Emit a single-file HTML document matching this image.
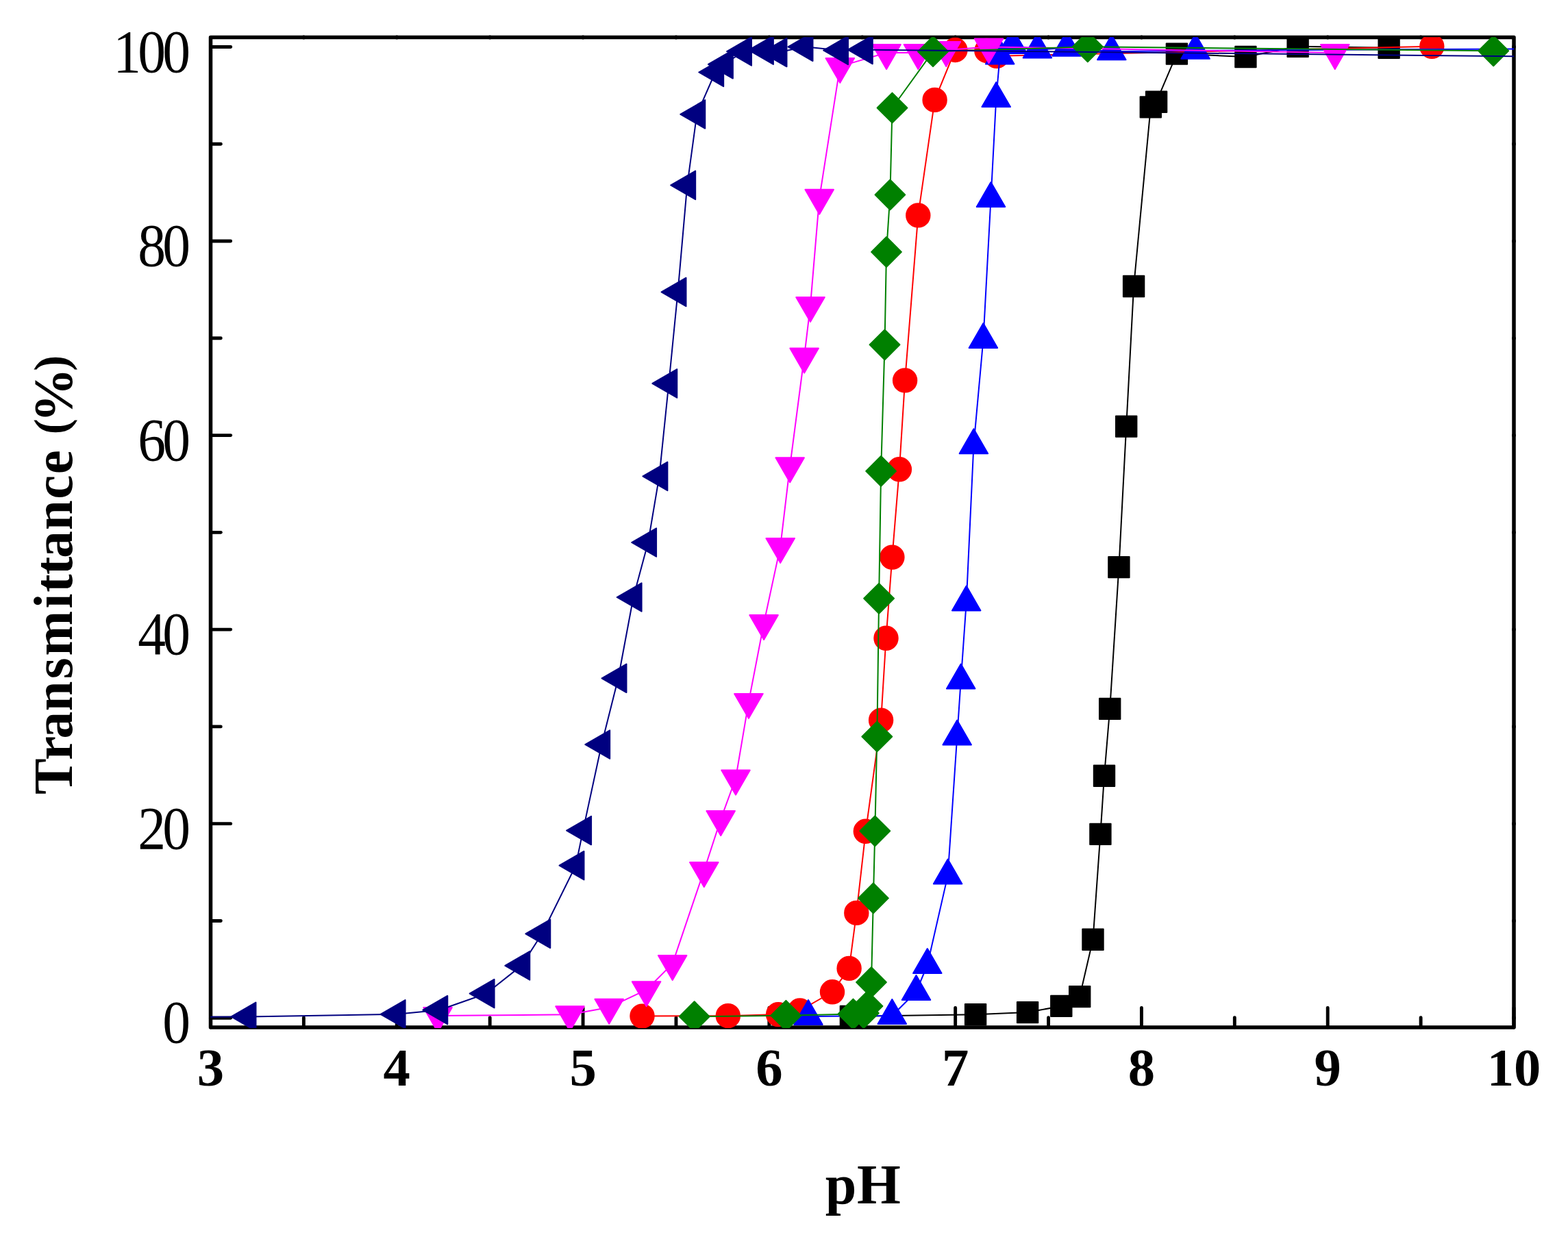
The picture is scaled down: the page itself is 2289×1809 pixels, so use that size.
<!DOCTYPE html>
<html lang="en">
<head>
<meta charset="utf-8">
<title>Transmittance (%) vs pH</title>
<style>
html,body{margin:0;padding:0;background:#fff;}
body{width:2289px;height:1809px;overflow:hidden;}
svg{display:block;}
text{font-family:"Liberation Serif","DejaVu Serif",serif;fill:#000;}
.b{font-weight:bold;}
</style>
</head>
<body>
<svg width="2289" height="1809" viewBox="0 0 2289 1809">
<rect x="0" y="0" width="2289" height="1809" fill="#ffffff"/>
<defs><clipPath id="plot"><rect x="307.2" y="54.2" width="1903.1" height="1446.7"/></clipPath></defs>
<g id="axes" fill="none" stroke="#000" stroke-linecap="round" stroke-linejoin="round">
<rect x="307.5" y="54.5" width="1902.5" height="1445.5" stroke-width="5.5"/>
<g stroke-width="4.9">
<line x1="307.5" y1="1500" x2="307.5" y2="1471.4"/><line x1="443.39" y1="1500" x2="443.39" y2="1485.8"/><line x1="579.29" y1="1500" x2="579.29" y2="1471.4"/><line x1="715.18" y1="1500" x2="715.18" y2="1485.8"/><line x1="851.07" y1="1500" x2="851.07" y2="1471.4"/><line x1="986.96" y1="1500" x2="986.96" y2="1485.8"/><line x1="1122.86" y1="1500" x2="1122.86" y2="1471.4"/><line x1="1258.75" y1="1500" x2="1258.75" y2="1485.8"/><line x1="1394.64" y1="1500" x2="1394.64" y2="1471.4"/><line x1="1530.54" y1="1500" x2="1530.54" y2="1485.8"/><line x1="1666.43" y1="1500" x2="1666.43" y2="1471.4"/><line x1="1802.32" y1="1500" x2="1802.32" y2="1485.8"/><line x1="1938.21" y1="1500" x2="1938.21" y2="1471.4"/><line x1="2074.11" y1="1500" x2="2074.11" y2="1485.8"/><line x1="2210" y1="1500" x2="2210" y2="1471.4"/>
<line x1="307.5" y1="1486.2" x2="336.7" y2="1486.2"/><line x1="307.5" y1="1344.43" x2="322.3" y2="1344.43"/><line x1="307.5" y1="1202.66" x2="336.7" y2="1202.66"/><line x1="307.5" y1="1060.89" x2="322.3" y2="1060.89"/><line x1="307.5" y1="919.12" x2="336.7" y2="919.12"/><line x1="307.5" y1="777.35" x2="322.3" y2="777.35"/><line x1="307.5" y1="635.58" x2="336.7" y2="635.58"/><line x1="307.5" y1="493.81" x2="322.3" y2="493.81"/><line x1="307.5" y1="352.04" x2="336.7" y2="352.04"/><line x1="307.5" y1="210.27" x2="322.3" y2="210.27"/><line x1="307.5" y1="68.5" x2="336.7" y2="68.5"/>
<circle cx="443.39" cy="54.5" r="0.45"/><circle cx="579.29" cy="54.5" r="0.45"/><circle cx="715.18" cy="54.5" r="0.45"/><circle cx="851.07" cy="54.5" r="0.45"/><circle cx="986.96" cy="54.5" r="0.45"/><circle cx="1122.86" cy="54.5" r="0.45"/><circle cx="1258.75" cy="54.5" r="0.45"/><circle cx="1394.64" cy="54.5" r="0.45"/><circle cx="1530.54" cy="54.5" r="0.45"/><circle cx="1666.43" cy="54.5" r="0.45"/><circle cx="1802.32" cy="54.5" r="0.45"/><circle cx="1938.21" cy="54.5" r="0.45"/><circle cx="2074.11" cy="54.5" r="0.45"/><circle cx="2210" cy="1486.2" r="0.45"/><circle cx="2210" cy="1344.43" r="0.45"/><circle cx="2210" cy="1202.66" r="0.45"/><circle cx="2210" cy="1060.89" r="0.45"/><circle cx="2210" cy="919.12" r="0.45"/><circle cx="2210" cy="777.35" r="0.45"/><circle cx="2210" cy="635.58" r="0.45"/><circle cx="2210" cy="493.81" r="0.45"/><circle cx="2210" cy="352.04" r="0.45"/><circle cx="2210" cy="210.27" r="0.45"/><circle cx="2210" cy="68.5" r="0.45"/>
</g>
</g>
<g id="data" clip-path="url(#plot)">
<g id="s-black" fill="#000000" stroke="#000000" stroke-width="2" stroke-linejoin="round" stroke-linecap="round">
<polyline fill="none" points="1241.9,1484 1424.1,1481.2 1500.1,1478.1 1549.3,1468.9 1576.2,1455.1 1595.5,1371.8 1606.4,1217.9 1612,1132.8 1620.2,1034.9 1633.4,828.1 1644.2,622.6 1655.1,418 1679.8,156.4 1688.1,148.7 1717.9,78.6 1818.4,83 1894.6,67.8 2027.6,69.8"/>
<rect x="1226.7" y="1468.8" width="30.4" height="30.4"/><rect x="1408.9" y="1466" width="30.4" height="30.4"/><rect x="1484.9" y="1462.9" width="30.4" height="30.4"/><rect x="1534.1" y="1453.7" width="30.4" height="30.4"/><rect x="1561" y="1439.9" width="30.4" height="30.4"/><rect x="1580.3" y="1356.6" width="30.4" height="30.4"/><rect x="1591.2" y="1202.7" width="30.4" height="30.4"/><rect x="1596.8" y="1117.6" width="30.4" height="30.4"/><rect x="1605" y="1019.7" width="30.4" height="30.4"/><rect x="1618.2" y="812.9" width="30.4" height="30.4"/><rect x="1629" y="607.4" width="30.4" height="30.4"/><rect x="1639.9" y="402.8" width="30.4" height="30.4"/><rect x="1664.6" y="141.2" width="30.4" height="30.4"/><rect x="1672.9" y="133.5" width="30.4" height="30.4"/><rect x="1702.7" y="63.4" width="30.4" height="30.4"/><rect x="1803.2" y="67.8" width="30.4" height="30.4"/><rect x="1879.4" y="52.6" width="30.4" height="30.4"/><rect x="2012.4" y="54.6" width="30.4" height="30.4"/>
</g>
<g id="s-red" fill="#ff0000" stroke="#ff0000" stroke-width="2" stroke-linejoin="round" stroke-linecap="round">
<polyline fill="none" points="937.5,1483.6 1062.8,1483.2 1136.1,1481.1 1167.7,1475.5 1215,1448.3 1239.6,1413.9 1250.3,1332.9 1263.8,1213.8 1286.1,1051.6 1293.5,931.8 1302.4,813.6 1312.9,685.3 1321.1,555.4 1340.3,314.4 1364.6,145.9 1394.4,73 1440.4,74 1455,81.8 2090.3,67.8"/>
<circle cx="937.5" cy="1483.6" r="17.2"/><circle cx="1062.8" cy="1483.2" r="17.2"/><circle cx="1136.1" cy="1481.1" r="17.2"/><circle cx="1167.7" cy="1475.5" r="17.2"/><circle cx="1215" cy="1448.3" r="17.2"/><circle cx="1239.6" cy="1413.9" r="17.2"/><circle cx="1250.3" cy="1332.9" r="17.2"/><circle cx="1263.8" cy="1213.8" r="17.2"/><circle cx="1286.1" cy="1051.6" r="17.2"/><circle cx="1293.5" cy="931.8" r="17.2"/><circle cx="1302.4" cy="813.6" r="17.2"/><circle cx="1312.9" cy="685.3" r="17.2"/><circle cx="1321.1" cy="555.4" r="17.2"/><circle cx="1340.3" cy="314.4" r="17.2"/><circle cx="1364.6" cy="145.9" r="17.2"/><circle cx="1394.4" cy="73" r="17.2"/><circle cx="1440.4" cy="74" r="17.2"/><circle cx="1455" cy="81.8" r="17.2"/><circle cx="2090.3" cy="67.8" r="17.2"/>
</g>
<g id="s-blue" fill="#0000ff" stroke="#0000ff" stroke-width="2" stroke-linejoin="round" stroke-linecap="round">
<polyline fill="none" points="1180,1484 1302.3,1483 1337.5,1448 1353.8,1409 1383.6,1278.4 1397.2,1075.5 1402.7,993.5 1410.7,879.4 1421.4,650.2 1435.4,495.9 1446.5,290 1454.2,144.1 1459.7,81.4 1478.3,66 1514.4,72.5 1557.1,69.8 1622.8,75.2 1745.1,73.8 2260,71.2"/>
<polygon points="1180,1460.04 1200.75,1495.98 1159.25,1495.98"/><polygon points="1302.3,1459.04 1323.05,1494.98 1281.55,1494.98"/><polygon points="1337.5,1424.04 1358.25,1459.98 1316.75,1459.98"/><polygon points="1353.8,1385.04 1374.55,1420.98 1333.05,1420.98"/><polygon points="1383.6,1254.44 1404.35,1290.38 1362.85,1290.38"/><polygon points="1397.2,1051.54 1417.95,1087.48 1376.45,1087.48"/><polygon points="1402.7,969.54 1423.45,1005.48 1381.95,1005.48"/><polygon points="1410.7,855.44 1431.45,891.38 1389.95,891.38"/><polygon points="1421.4,626.24 1442.15,662.18 1400.65,662.18"/><polygon points="1435.4,471.94 1456.15,507.88 1414.65,507.88"/><polygon points="1446.5,266.04 1467.25,301.98 1425.75,301.98"/><polygon points="1454.2,120.14 1474.95,156.08 1433.45,156.08"/><polygon points="1459.7,57.44 1480.45,93.38 1438.95,93.38"/><polygon points="1478.3,42.04 1499.05,77.98 1457.55,77.98"/><polygon points="1514.4,48.54 1535.15,84.48 1493.65,84.48"/><polygon points="1557.1,45.84 1577.85,81.78 1536.35,81.78"/><polygon points="1622.8,51.24 1643.55,87.18 1602.05,87.18"/><polygon points="1745.1,49.84 1765.85,85.78 1724.35,85.78"/>
</g>
<g id="s-magenta" fill="#ff00ff" stroke="#ff00ff" stroke-width="2" stroke-linejoin="round" stroke-linecap="round">
<polyline fill="none" points="639.1,1483 832,1481.3 889.2,1470.8 943.6,1445.2 981.7,1407.1 1027.8,1271 1052.2,1196.1 1074,1136.5 1092.9,1024.9 1115.1,910 1139.2,797.9 1153.2,680.3 1174.1,520.5 1183,445.9 1196.2,288.8 1226.3,96.9 1294.1,77 1340.4,77 1381.3,73 1443.5,68.4 1948.8,77"/>
<polygon points="639.1,1506.96 659.85,1471.02 618.35,1471.02"/><polygon points="832,1505.26 852.75,1469.32 811.25,1469.32"/><polygon points="889.2,1494.76 909.95,1458.82 868.45,1458.82"/><polygon points="943.6,1469.16 964.35,1433.22 922.85,1433.22"/><polygon points="981.7,1431.06 1002.45,1395.12 960.95,1395.12"/><polygon points="1027.8,1294.96 1048.55,1259.02 1007.05,1259.02"/><polygon points="1052.2,1220.06 1072.95,1184.12 1031.45,1184.12"/><polygon points="1074,1160.46 1094.75,1124.52 1053.25,1124.52"/><polygon points="1092.9,1048.86 1113.65,1012.92 1072.15,1012.92"/><polygon points="1115.1,933.96 1135.85,898.02 1094.35,898.02"/><polygon points="1139.2,821.86 1159.95,785.92 1118.45,785.92"/><polygon points="1153.2,704.26 1173.95,668.32 1132.45,668.32"/><polygon points="1174.1,544.46 1194.85,508.52 1153.35,508.52"/><polygon points="1183,469.86 1203.75,433.92 1162.25,433.92"/><polygon points="1196.2,312.76 1216.95,276.82 1175.45,276.82"/><polygon points="1226.3,120.86 1247.05,84.92 1205.55,84.92"/><polygon points="1294.1,100.96 1314.85,65.02 1273.35,65.02"/><polygon points="1340.4,100.96 1361.15,65.02 1319.65,65.02"/><polygon points="1381.3,96.96 1402.05,61.02 1360.55,61.02"/><polygon points="1443.5,92.36 1464.25,56.42 1422.75,56.42"/><polygon points="1948.8,100.96 1969.55,65.02 1928.05,65.02"/>
</g>
<g id="s-green" fill="#008000" stroke="#008000" stroke-width="2" stroke-linejoin="round" stroke-linecap="round">
<polyline fill="none" points="1013.7,1484.2 1147.4,1482.8 1245.5,1480.5 1260.8,1479.2 1266.4,1469 1272,1434.1 1274.9,1311.4 1277.3,1213.3 1280.3,1075.5 1283.1,873.8 1286.1,687.9 1291.5,503.3 1294,367.9 1299.4,284.4 1302.5,157.5 1362,75.2 1587.8,68.3 2180.2,74.3"/>
<polygon points="1013.7,1462.3 1035.6,1484.2 1013.7,1506.1 991.8,1484.2"/><polygon points="1147.4,1460.9 1169.3,1482.8 1147.4,1504.7 1125.5,1482.8"/><polygon points="1245.5,1458.6 1267.4,1480.5 1245.5,1502.4 1223.6,1480.5"/><polygon points="1260.8,1457.3 1282.7,1479.2 1260.8,1501.1 1238.9,1479.2"/><polygon points="1266.4,1447.1 1288.3,1469 1266.4,1490.9 1244.5,1469"/><polygon points="1272,1412.2 1293.9,1434.1 1272,1456 1250.1,1434.1"/><polygon points="1274.9,1289.5 1296.8,1311.4 1274.9,1333.3 1253,1311.4"/><polygon points="1277.3,1191.4 1299.2,1213.3 1277.3,1235.2 1255.4,1213.3"/><polygon points="1280.3,1053.6 1302.2,1075.5 1280.3,1097.4 1258.4,1075.5"/><polygon points="1283.1,851.9 1305,873.8 1283.1,895.7 1261.2,873.8"/><polygon points="1286.1,666 1308,687.9 1286.1,709.8 1264.2,687.9"/><polygon points="1291.5,481.4 1313.4,503.3 1291.5,525.2 1269.6,503.3"/><polygon points="1294,346 1315.9,367.9 1294,389.8 1272.1,367.9"/><polygon points="1299.4,262.5 1321.3,284.4 1299.4,306.3 1277.5,284.4"/><polygon points="1302.5,135.6 1324.4,157.5 1302.5,179.4 1280.6,157.5"/><polygon points="1362,53.3 1383.9,75.2 1362,97.1 1340.1,75.2"/><polygon points="1587.8,46.4 1609.7,68.3 1587.8,90.2 1565.9,68.3"/><polygon points="2180.2,52.4 2202.1,74.3 2180.2,96.2 2158.3,74.3"/>
</g>
<g id="s-navy" fill="#000080" stroke="#000080" stroke-width="2" stroke-linejoin="round" stroke-linecap="round">
<polyline fill="none" points="250,1484.9 361.5,1484.4 579.6,1480.8 641.3,1474.7 709.6,1450.7 761.3,1409.9 791.3,1363.3 840.5,1263.7 851.1,1212.6 878.2,1087 902.5,990.3 924.6,872 946.1,792 962.4,695.4 976.3,559.9 989.5,426.4 1003.2,270.4 1017.3,166.8 1044.2,105.5 1057.9,93.8 1085,75 1116.9,73.2 1136.5,76.6 1174.5,68.3 1226,73.5 1261.8,72.6 2260,82.8"/>
<polygon points="337.54,1484.4 373.48,1463.65 373.48,1505.15"/><polygon points="555.64,1480.8 591.58,1460.05 591.58,1501.55"/><polygon points="617.34,1474.7 653.28,1453.95 653.28,1495.45"/><polygon points="685.64,1450.7 721.58,1429.95 721.58,1471.45"/><polygon points="737.34,1409.9 773.28,1389.15 773.28,1430.65"/><polygon points="767.34,1363.3 803.28,1342.55 803.28,1384.05"/><polygon points="816.54,1263.7 852.48,1242.95 852.48,1284.45"/><polygon points="827.14,1212.6 863.08,1191.85 863.08,1233.35"/><polygon points="854.24,1087 890.18,1066.25 890.18,1107.75"/><polygon points="878.54,990.3 914.48,969.55 914.48,1011.05"/><polygon points="900.64,872 936.58,851.25 936.58,892.75"/><polygon points="922.14,792 958.08,771.25 958.08,812.75"/><polygon points="938.44,695.4 974.38,674.65 974.38,716.15"/><polygon points="952.34,559.9 988.28,539.15 988.28,580.65"/><polygon points="965.54,426.4 1001.48,405.65 1001.48,447.15"/><polygon points="979.24,270.4 1015.18,249.65 1015.18,291.15"/><polygon points="993.34,166.8 1029.28,146.05 1029.28,187.55"/><polygon points="1020.24,105.5 1056.18,84.75 1056.18,126.25"/><polygon points="1033.94,93.8 1069.88,73.05 1069.88,114.55"/><polygon points="1061.04,75 1096.98,54.25 1096.98,95.75"/><polygon points="1092.94,73.2 1128.88,52.45 1128.88,93.95"/><polygon points="1112.54,76.6 1148.48,55.85 1148.48,97.35"/><polygon points="1150.54,68.3 1186.48,47.55 1186.48,89.05"/><polygon points="1202.04,73.5 1237.98,52.75 1237.98,94.25"/><polygon points="1237.84,72.6 1273.78,51.85 1273.78,93.35"/>
</g>
</g>
<g id="ylabels" font-size="88.6">
<text transform="translate(237.37 1522.2) scale(0.9216 1)" letter-spacing="-5.15">0</text>
<text transform="translate(201.29 1238.66) scale(0.9216 1)" letter-spacing="-5.15">20</text>
<text transform="translate(201.29 955.12) scale(0.9216 1)" letter-spacing="-5.15">40</text>
<text transform="translate(201.29 671.58) scale(0.9216 1)" letter-spacing="-5.15">60</text>
<text transform="translate(201.29 388.04) scale(0.9216 1)" letter-spacing="-5.15">80</text>
<text transform="translate(165.21 104.5) scale(0.9216 1)" letter-spacing="-5.15">100</text>
</g>
<g id="xlabels" class="b" font-size="78.7" text-anchor="middle">
<text transform="translate(307.5 1585.2) scale(1 1)">3</text>
<text transform="translate(579.29 1585.2) scale(1 1)">4</text>
<text transform="translate(851.07 1585.2) scale(1 1)">5</text>
<text transform="translate(1122.86 1585.2) scale(1 1)">6</text>
<text transform="translate(1394.64 1585.2) scale(1 1)">7</text>
<text transform="translate(1666.43 1585.2) scale(1 1)">8</text>
<text transform="translate(1938.21 1585.2) scale(1 1)">9</text>
<text transform="translate(2210 1585.2) scale(1 1)">10</text>
</g>
<text id="xtitle" class="b" font-size="82" transform="translate(0 1756.8) scale(1 1)" x="1204.64 1251.04">pH</text>
<text id="ytitle" class="b" font-size="81.2" transform="translate(105.2 1158.1) rotate(-90) scale(0.975 1)"><tspan x="-2.02 49.35 81.72 122.64 171.04 205.53 276.42 300.77 327.23 352.19 393.71 440.37 477.69 506.54">Transmittance </tspan><tspan x="537.18" dy="-7.1" font-size="70.8">(</tspan><tspan x="555.45" dy="7.1">%</tspan><tspan x="632.22" dy="-7.1" font-size="70.8">)</tspan></text>
</svg>
</body>
</html>
